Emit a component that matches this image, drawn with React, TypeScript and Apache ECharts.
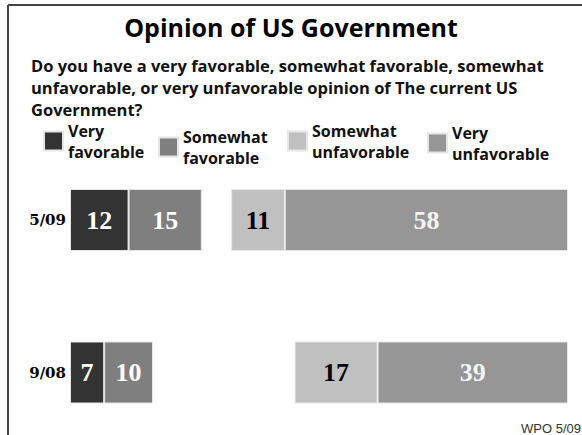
import React, { useEffect, useRef } from "react";
import * as echarts from "echarts";

const titleText = "Opinion of US Government";
const questionText =
  "Do you have a very favorable, somewhat favorable, somewhat\nunfavorable, or very unfavorable opinion of The current US\nGovernment?";
const sourceText = "WPO 5/09";

const categories = ["5/09", "9/08"];
const seriesNames = [
  "Very\nfavorable",
  "Somewhat\nfavorable",
  "Somewhat\nunfavorable",
  "Very\nunfavorable",
];
const veryFavorable = [12, 7];
const somewhatFavorable = [15, 10];
const somewhatUnfavorable = [11, 17];
const veryUnfavorable = [58, 39];

const colors = ["#333333", "#7f7f7f", "#c0c0c0", "#969696"];
const labelColors = ["#ffffff", "#ffffff", "#000000", "#f4f4f4"];

const SANS = "'Open Sans', 'DejaVu Sans', sans-serif";

export default function App() {
  const ref = useRef<HTMLDivElement>(null);

  useEffect(() => {
    if (!ref.current) return;
    const chart = echarts.init(ref.current, undefined, { renderer: "svg" });

    const mkSeries = (idx: number, data: number[], stack: string, axis: number) => ({
      name: seriesNames[idx],
      type: "bar",
      stack,
      xAxisIndex: axis,
      barWidth: 62,
      barGap: "-100%",
      data,
      itemStyle: { color: colors[idx], borderColor: "#e6e6e6", borderWidth: 1 },
      label: {
        show: true,
        position: "inside",
        color: labelColors[idx],
        fontFamily: "'Liberation Serif', serif",
        fontWeight: "bold",
        fontSize: 26,
      },
    });

    const legendLefts = [43, 158, 287, 427];
    const legendTops = [113, 119, 113, 115];

    chart.setOption({
      animation: false,
      title: [
        {
          text: titleText,
          left: "center",
          top: 9,
          textStyle: {
            fontFamily: SANS,
            fontWeight: "bold",
            fontSize: 25,
            color: "#000",
          },
        },
        {
          text: questionText,
          left: 26,
          top: 49,
          textStyle: {
            fontFamily: SANS,
            fontWeight: "bold",
            fontSize: 16.5,
            lineHeight: 22,
            color: "#111",
          },
        },
      ],
      legend: legendLefts.map((l, i) => ({
        data: [seriesNames[i]],
        left: l,
        top: legendTops[i],
        icon: "rect",
        itemWidth: 19,
        itemHeight: 19,
        padding: 0,
        selectedMode: false,
        textStyle: {
          fontFamily: SANS,
          fontWeight: "bold",
          fontSize: 16,
          lineHeight: 21,
          padding: [14, 0, 0, 0],
          color: "#111",
        },
      })),
      grid: {
        left: 70,
        right: 14,
        top: 220,
        bottom: 62.5,
        containLabel: false,
        outerBoundsMode: "none",
      },
      xAxis: [
        { type: "value", min: 0, max: 102, show: false },
        { type: "value", min: 0, max: 102, inverse: true, show: false },
      ],
      yAxis: {
        type: "category",
        data: categories,
        inverse: true,
        boundaryGap: false,
        axisLine: { show: false },
        axisTick: { show: false },
        splitLine: { show: false },
        axisLabel: {
          margin: 4,
          fontFamily: "'DejaVu Serif', serif",
          fontWeight: "bold",
          fontSize: 15,
          color: "#000",
        },
      },
      series: [
        mkSeries(0, veryFavorable, "fav", 0),
        mkSeries(1, somewhatFavorable, "fav", 0),
        mkSeries(3, veryUnfavorable, "unfav", 1),
        mkSeries(2, somewhatUnfavorable, "unfav", 1),
      ],
      graphic: [
        {
          type: "line",
          shape: { x1: 8, y1: 5, x2: 582, y2: 5 },
          style: { stroke: "#444", lineWidth: 2 },
        },
        {
          type: "line",
          shape: { x1: 8, y1: 5, x2: 8, y2: 435 },
          style: { stroke: "#444", lineWidth: 2 },
        },
        {
          type: "text",
          x: 581,
          y: 428,
          style: {
            text: sourceText,
            textAlign: "right",
            textVerticalAlign: "middle",
            fontFamily: "'Liberation Sans', sans-serif",
            fontSize: 13,
            fill: "#333",
          },
        },
      ],
    });

    return () => chart.dispose();
  }, []);

  return (
    <div
      ref={ref}
      style={{ position: "fixed", left: 0, top: 0, width: 582, height: 435, background: "#fff" }}
    />
  );
}
